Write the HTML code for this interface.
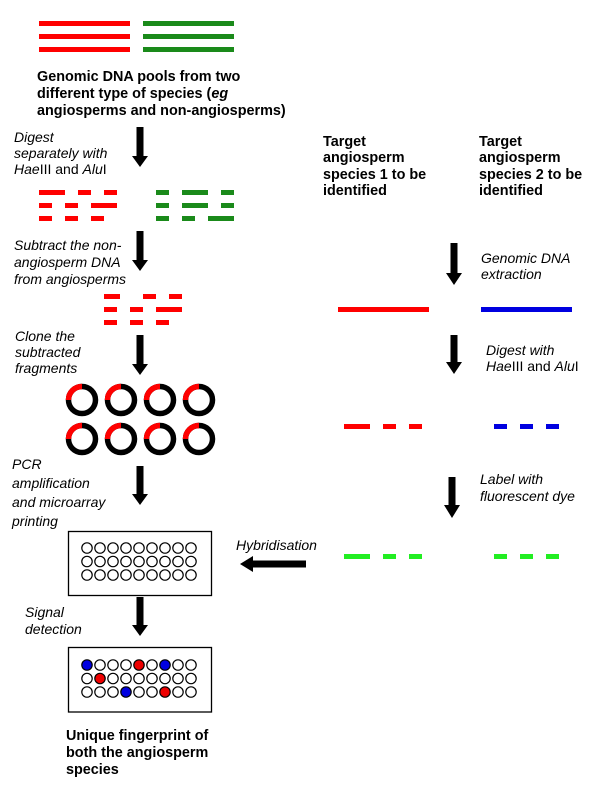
<!DOCTYPE html>
<html><head><meta charset="utf-8"><style>
html,body{margin:0;padding:0;background:#fff;}
svg{display:block;}
text{font-family:"Liberation Sans",Arial,sans-serif;fill:#000;}
.b{font-weight:bold;font-size:14.4px;}
.i{font-style:italic;font-size:14px;}
</style></head><body>
<svg width="600" height="788" viewBox="0 0 600 788" xmlns="http://www.w3.org/2000/svg">
<!-- top pools -->
<g fill="#f00"><rect x="39" y="21" width="91" height="5"/><rect x="39" y="34" width="91" height="5"/><rect x="39" y="47" width="91" height="5"/></g>
<g fill="#1a8a1a"><rect x="143" y="21" width="91" height="5"/><rect x="143" y="34" width="91" height="5"/><rect x="143" y="47" width="91" height="5"/></g>
<text class="b" x="37" y="81">Genomic DNA pools from two</text>
<text class="b" x="37" y="98">different type of species (<tspan font-style="italic">eg</tspan></text>
<text class="b" x="37" y="115">angiosperms and non-angiosperms)</text>

<!-- arrows -->
<g fill="#000">
<polygon points="136.5,127 143.5,127 143.5,156 148,156 140,167 132,156 136.5,156"/>
<polygon points="136.5,231 143.5,231 143.5,260 148,260 140,271 132,260 136.5,260"/>
<polygon points="136.5,335 143.5,335 143.5,364 148,364 140,375 132,364 136.5,364"/>
<polygon points="136.5,466 143.5,466 143.5,494 148,494 140,505 132,494 136.5,494"/>
<polygon points="136.5,597 143.5,597 143.5,625 148,625 140,636 132,625 136.5,625"/>
<polygon points="450.5,243 457.5,243 457.5,273 462,273 454,285 446,273 450.5,273"/>
<polygon points="450.5,335 457.5,335 457.5,362 462,362 454,374 446,362 450.5,362"/>
<polygon points="448.5,477 455.5,477 455.5,505 460,505 452,518 444,505 448.5,505"/>
<polygon points="306,560.5 253,560.5 253,556 240,564 253,572 253,567.5 306,567.5"/>
</g>

<text class="i" x="14" y="142">Digest</text>
<text class="i" x="14" y="158">separately with</text>
<text class="i" x="14" y="174">Hae<tspan font-style="normal">III and </tspan>Alu<tspan font-style="normal">I</tspan></text>

<!-- digested fragments -->
<g fill="#f00">
<rect x="39" y="190" width="26" height="5"/><rect x="78" y="190" width="13" height="5"/><rect x="104" y="190" width="13" height="5"/>
<rect x="39" y="203" width="13" height="5"/><rect x="65" y="203" width="13" height="5"/><rect x="91" y="203" width="26" height="5"/>
<rect x="39" y="216" width="13" height="5"/><rect x="65" y="216" width="13" height="5"/><rect x="91" y="216" width="13" height="5"/>
</g>
<g fill="#1a8a1a">
<rect x="156" y="190" width="13" height="5"/><rect x="182" y="190" width="26" height="5"/><rect x="221" y="190" width="13" height="5"/>
<rect x="156" y="203" width="13" height="5"/><rect x="182" y="203" width="26" height="5"/><rect x="221" y="203" width="13" height="5"/>
<rect x="156" y="216" width="13" height="5"/><rect x="182" y="216" width="13" height="5"/><rect x="208" y="216" width="26" height="5"/>
</g>

<text class="i" x="14" y="250">Subtract the non-</text>
<text class="i" x="14" y="267">angiosperm DNA</text>
<text class="i" x="14" y="284">from angiosperms</text>

<g fill="#f00">
<rect x="104" y="294" width="16" height="5"/><rect x="143" y="294" width="13" height="5"/><rect x="169" y="294" width="13" height="5"/>
<rect x="104" y="307" width="13" height="5"/><rect x="130" y="307" width="13" height="5"/><rect x="156" y="307" width="26" height="5"/>
<rect x="104" y="320" width="13" height="5"/><rect x="130" y="320" width="13" height="5"/><rect x="156" y="320" width="13" height="5"/>
</g>

<text class="i" x="15" y="341">Clone the</text>
<text class="i" x="15" y="357">subtracted</text>
<text class="i" x="15" y="373">fragments</text>

<!-- plasmids -->
<g fill="none" stroke-width="5.5">
<g stroke="#000">
<circle cx="82" cy="400" r="13.5"/><circle cx="121" cy="400" r="13.5"/><circle cx="160" cy="400" r="13.5"/><circle cx="199" cy="400" r="13.5"/>
<circle cx="82" cy="439" r="13.5"/><circle cx="121" cy="439" r="13.5"/><circle cx="160" cy="439" r="13.5"/><circle cx="199" cy="439" r="13.5"/>
</g>
<g stroke="#f00">
<path d="M68.5,400 A13.5,13.5 0 0 1 82,386.5"/><path d="M107.5,400 A13.5,13.5 0 0 1 121,386.5"/><path d="M146.5,400 A13.5,13.5 0 0 1 160,386.5"/><path d="M185.5,400 A13.5,13.5 0 0 1 199,386.5"/>
<path d="M68.5,439 A13.5,13.5 0 0 1 82,425.5"/><path d="M107.5,439 A13.5,13.5 0 0 1 121,425.5"/><path d="M146.5,439 A13.5,13.5 0 0 1 160,425.5"/><path d="M185.5,439 A13.5,13.5 0 0 1 199,425.5"/>
</g>
</g>

<text class="i" x="12" y="469">PCR</text>
<text class="i" x="12" y="488">amplification</text>
<text class="i" x="12" y="507">and microarray</text>
<text class="i" x="12" y="526">printing</text>

<!-- microarray 1 -->
<rect x="68.5" y="531.5" width="143" height="64" fill="none" stroke="#000" stroke-width="1.3"/>
<g fill="none" stroke="#000" stroke-width="1.2">
<circle cx="87" cy="548" r="5.2"/><circle cx="100" cy="548" r="5.2"/><circle cx="113" cy="548" r="5.2"/><circle cx="126" cy="548" r="5.2"/><circle cx="139" cy="548" r="5.2"/><circle cx="152" cy="548" r="5.2"/><circle cx="165" cy="548" r="5.2"/><circle cx="178" cy="548" r="5.2"/><circle cx="191" cy="548" r="5.2"/>
<circle cx="87" cy="561.5" r="5.2"/><circle cx="100" cy="561.5" r="5.2"/><circle cx="113" cy="561.5" r="5.2"/><circle cx="126" cy="561.5" r="5.2"/><circle cx="139" cy="561.5" r="5.2"/><circle cx="152" cy="561.5" r="5.2"/><circle cx="165" cy="561.5" r="5.2"/><circle cx="178" cy="561.5" r="5.2"/><circle cx="191" cy="561.5" r="5.2"/>
<circle cx="87" cy="575" r="5.2"/><circle cx="100" cy="575" r="5.2"/><circle cx="113" cy="575" r="5.2"/><circle cx="126" cy="575" r="5.2"/><circle cx="139" cy="575" r="5.2"/><circle cx="152" cy="575" r="5.2"/><circle cx="165" cy="575" r="5.2"/><circle cx="178" cy="575" r="5.2"/><circle cx="191" cy="575" r="5.2"/>
</g>

<text class="i" x="25" y="617">Signal</text>
<text class="i" x="25" y="634">detection</text>

<!-- microarray 2 -->
<rect x="68.5" y="647.5" width="143" height="64.5" fill="none" stroke="#000" stroke-width="1.3"/>
<g stroke="#000" stroke-width="1.2" fill="#fff">
<circle cx="87" cy="665" r="5.2" fill="#0000e0"/><circle cx="100" cy="665" r="5.2"/><circle cx="113" cy="665" r="5.2"/><circle cx="126" cy="665" r="5.2"/><circle cx="139" cy="665" r="5.2" fill="#e00"/><circle cx="152" cy="665" r="5.2"/><circle cx="165" cy="665" r="5.2" fill="#0000e0"/><circle cx="178" cy="665" r="5.2"/><circle cx="191" cy="665" r="5.2"/>
<circle cx="87" cy="678.5" r="5.2"/><circle cx="100" cy="678.5" r="5.2" fill="#e00"/><circle cx="113" cy="678.5" r="5.2"/><circle cx="126" cy="678.5" r="5.2"/><circle cx="139" cy="678.5" r="5.2"/><circle cx="152" cy="678.5" r="5.2"/><circle cx="165" cy="678.5" r="5.2"/><circle cx="178" cy="678.5" r="5.2"/><circle cx="191" cy="678.5" r="5.2"/>
<circle cx="87" cy="692" r="5.2"/><circle cx="100" cy="692" r="5.2"/><circle cx="113" cy="692" r="5.2"/><circle cx="126" cy="692" r="5.2" fill="#0000e0"/><circle cx="139" cy="692" r="5.2"/><circle cx="152" cy="692" r="5.2"/><circle cx="165" cy="692" r="5.2" fill="#e00"/><circle cx="178" cy="692" r="5.2"/><circle cx="191" cy="692" r="5.2"/>
</g>

<text class="b" x="66" y="740">Unique fingerprint of</text>
<text class="b" x="66" y="757">both the angiosperm</text>
<text class="b" x="66" y="774">species</text>

<!-- right side -->
<text class="b" x="323" y="146">Target</text>
<text class="b" x="323" y="162">angiosperm</text>
<text class="b" x="323" y="179">species 1 to be</text>
<text class="b" x="323" y="195">identified</text>
<text class="b" x="479" y="146">Target</text>
<text class="b" x="479" y="162">angiosperm</text>
<text class="b" x="479" y="179">species 2 to be</text>
<text class="b" x="479" y="195">identified</text>

<text class="i" x="481" y="263">Genomic DNA</text>
<text class="i" x="481" y="279">extraction</text>

<rect x="338" y="307" width="91" height="5" fill="#f00"/>
<rect x="481" y="307" width="91" height="5" fill="#0000e0"/>

<text class="i" x="486" y="355">Digest with</text>
<text class="i" x="486" y="371">Hae<tspan font-style="normal">III and </tspan>Alu<tspan font-style="normal">I</tspan></text>

<g fill="#f00"><rect x="344" y="424" width="26" height="5"/><rect x="383" y="424" width="13" height="5"/><rect x="409" y="424" width="13" height="5"/></g>
<g fill="#0000e0"><rect x="494" y="424" width="13" height="5"/><rect x="520" y="424" width="13" height="5"/><rect x="546" y="424" width="13" height="5"/></g>

<text class="i" x="480" y="484">Label with</text>
<text class="i" x="480" y="501">fluorescent dye</text>

<text class="i" x="236" y="550">Hybridisation</text>

<g fill="#22ee22"><rect x="344" y="554" width="26" height="5"/><rect x="383" y="554" width="13" height="5"/><rect x="409" y="554" width="13" height="5"/>
<rect x="494" y="554" width="13" height="5"/><rect x="520" y="554" width="13" height="5"/><rect x="546" y="554" width="13" height="5"/></g>
</svg>
</body></html>
